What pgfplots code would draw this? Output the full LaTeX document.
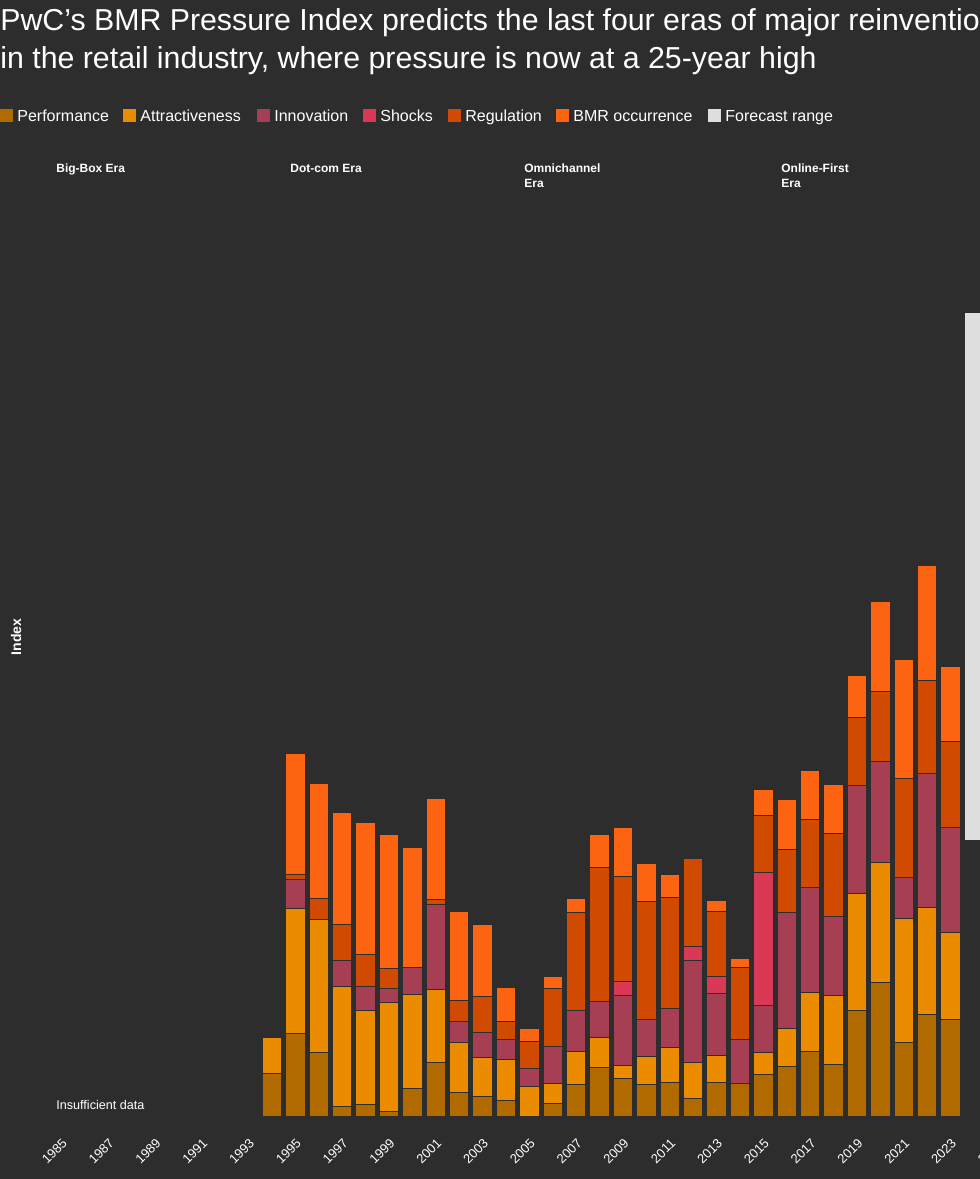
\documentclass[border=0pt]{standalone}
\usepackage{pgfplots}
\pgfplotsset{compat=1.18}
\usepackage{pgfplotstable}
\usepackage{fontspec}
\setmainfont{Liberation Sans}

\definecolor{bg}{HTML}{2D2D2D}
\definecolor{perf}{HTML}{B06A00}
\definecolor{attr}{HTML}{EB8C00}
\definecolor{innov}{HTML}{A63E54}
\definecolor{shock}{HTML}{D93954}
\definecolor{regul}{HTML}{D04A02}
\definecolor{bmr}{HTML}{FD6412}
\definecolor{fcast}{HTML}{DEDEDE}

% values in index points
\pgfplotstableread{
year perf attr innov shocks reg bmr
1994 43 36 0 0 0 0
1995 83 125 29 0 5 121
1996 64 133 0 0 21 115
1997 10 120 26 0 36 112
1998 12 94 24 0 32 132
1999 5 109 14 0 20 134
2000 28 94 27 0 0 120
2001 54 73 85 0 5 101
2002 24 50 21 0 21 89
2003 20 39 25 0 36 72
2004 16 41 20 0 18 34
2005 0 30 18 0 27 13
2006 13 20 37 0 58 12
2007 32 33 41 0 98 14
2008 49 30 36 0 134 33
2009 38 13 70 14 105 49
2010 32 28 37 0 118 38
2011 34 35 39 0 111 23
2012 18 36 102 14 88 0
2013 34 27 62 17 65 11
2014 33 0 44 0 72 9
2015 42 22 47 133 57 26
2016 50 38 116 0 63 50
2017 65 59 105 0 68 49
2018 52 69 79 0 83 49
2019 106 117 108 0 68 42
2020 134 120 101 0 70 90
2021 74 124 41 0 99 119
2022 102 107 134 0 93 115
2023 97 87 105 0 86 75
}\bmrdata

\begin{document}
\begin{tikzpicture}
\fill[bg] (0,0) rectangle (490pt,589.5pt);
\clip (0,0) rectangle (490pt,589.5pt);

\begin{axis}[
    at={(24.85pt,31pt)}, anchor=south west,
    scale only axis,
    width=479.7pt, height=458.5pt,
    xmin=1984.5, xmax=2025.5,
    ymin=0, ymax=917,
    ybar stacked,
    bar width=9.75pt,
    axis line style={draw=none},
    major tick length=0pt,
    ytick=\empty,
    xtick={1985,1987,...,2025},
    /pgf/number format/.cd, 1000 sep={}, assume math mode=true, /pgfplots/.cd,
    xticklabel style={rotate=45, anchor=north east, text=white,
        font=\fontsize{6.5pt}{7pt}\selectfont, inner sep=0pt, xshift=-7.2pt, yshift=-7.2pt},
    every axis plot/.append style={draw=bg, line width=0.5pt},
]
\addplot[fill=perf]  table[x=year, y=perf]   {\bmrdata};
\addplot[fill=attr]  table[x=year, y=attr]   {\bmrdata};
\addplot[fill=innov] table[x=year, y=innov]  {\bmrdata};
\addplot[fill=shock] table[x=year, y=shocks] {\bmrdata};
\addplot[fill=regul] table[x=year, y=reg]    {\bmrdata};
\addplot[fill=bmr]   table[x=year, y=bmr]    {\bmrdata};
% forecast range band
\addplot[ybar=0pt, draw=none, fill=fcast, sharp plot, stack plots=false]
    coordinates {(2023.62,277) (2027,277) (2027,804) (2023.62,804)} -- cycle;
\end{axis}

\begin{scope}[x=0.5pt, y=-0.5pt, shift={(0,589.5pt)}, text=white]
\node[anchor=base west, inner sep=0pt, font=\fontsize{15.15pt}{19pt}\selectfont] at (0,31)
  {PwC’s BMR Pressure Index predicts the last four eras of major reinvention};
\node[anchor=base west, inner sep=0pt, font=\fontsize{15.15pt}{19pt}\selectfont] at (0,69)
  {in the retail industry, where pressure is now at a 25-year high};
\foreach \xs/\col/\name in {0/perf/Performance, 123/attr/Attractiveness,
    257/innov/Innovation, 363/shock/Shocks, 448/regul/Regulation,
    556/bmr/BMR occurrence, 708/fcast/Forecast range}{
  \fill[\col] (\xs,109) rectangle ++(13,13);
  \node[anchor=base west, inner sep=0pt, font=\fontsize{8pt}{9pt}\selectfont]
    at (\xs+17,122) {\name};
}
\foreach \xs/\name in {56/Big-Box Era, 290/Dot-com Era, 524/Omnichannel, 781/Online-First}{
  \node[anchor=base west, inner sep=0pt, font=\bfseries\fontsize{6pt}{7pt}\selectfont]
    at (\xs,173) {\name};
}
\foreach \xs in {524,781}{
  \node[anchor=base west, inner sep=0pt, font=\bfseries\fontsize{6pt}{7pt}\selectfont]
    at (\xs,188) {Era};
}
\node[anchor=base west, inner sep=0pt, font=\fontsize{6.3pt}{7pt}\selectfont]
  at (56,1110) {Insufficient data};
\node[rotate=90, font=\bfseries\fontsize{7pt}{8pt}\selectfont] at (16,637) {Index};
\end{scope}
\end{tikzpicture}
\end{document}
